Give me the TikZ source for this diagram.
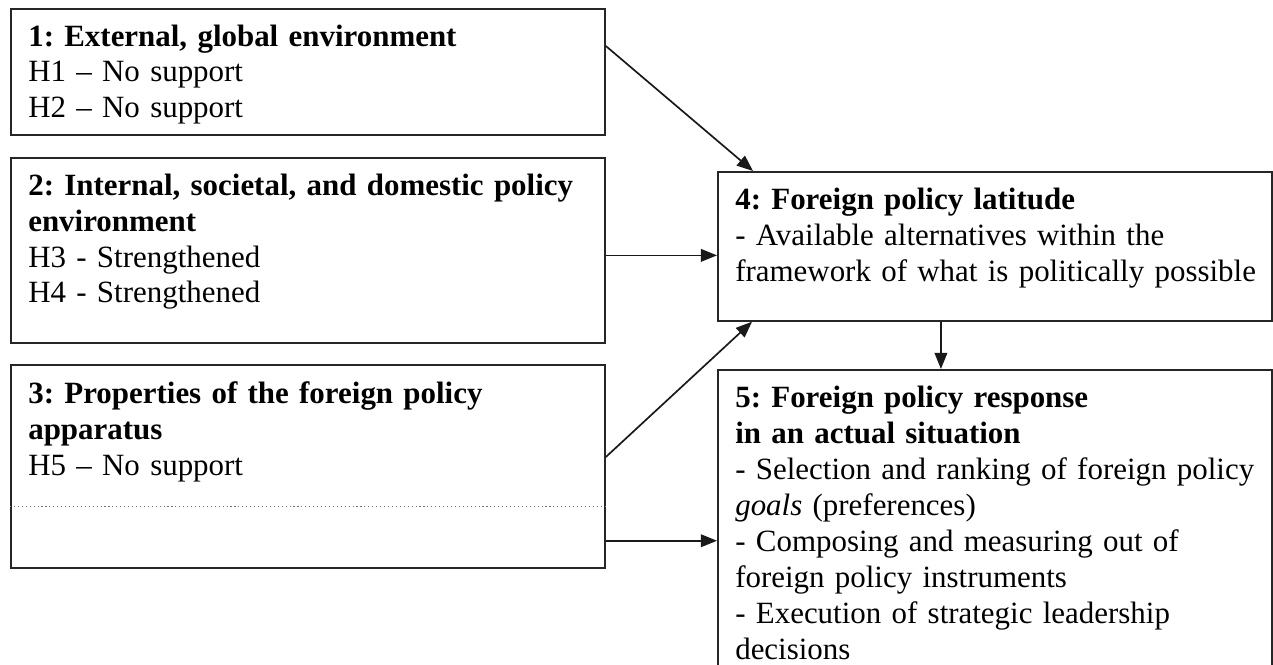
\documentclass[tikz,border=0pt]{standalone}
\usepackage{fontspec}
\setmainfont{Liberation Serif}
\usetikzlibrary{arrows.meta}
\frenchspacing

\tikzset{
  panel/.style={draw=black!85, line width=1.2pt, anchor=north west, inner sep=0pt},
  paneltext/.style={anchor=base west, inner sep=0pt, align=left, text width=14cm,
    font=\fontsize{22}{25.6}\selectfont},
  link/.style={draw=black!90, line width=1.2pt, -{Triangle[length=11.5pt,width=9pt]}},
  divider/.style={draw=black!55, dotted, line width=0.8pt}
}

\begin{document}
\begin{tikzpicture}[x=0.025cm,y=-0.025cm]
\clip (0,0) rectangle (1273,664);
% left column: the three environments
\node[panel, minimum width=14.85cm, minimum height=3.15cm] (b1) at (10,8) {};
\node[panel, minimum width=14.85cm, minimum height=4.625cm] (b2) at (10,157) {};
\node[panel, minimum width=14.85cm, minimum height=5.075cm] (b3) at (10,364) {};
% right column
\node[panel, minimum width=13.85cm, minimum height=3.725cm] (b4) at (717,171) {};
\node[panel, minimum width=13.85cm, minimum height=8.025cm] (b5) at (717,369) {};

\node[paneltext] (t1) at ([shift={(18,38)}]b1.north west)
  {\textbf{1: External, global environment}\\H1 – No support\\H2 – No support};
\node[paneltext] (t2) at ([shift={(18,38)}]b2.north west)
  {\textbf{2: Internal, societal, and domestic policy}\\\textbf{environment}\\H3 - Strengthened\\H4 - Strengthened};
\node[paneltext] (t3) at ([shift={(18,39)}]b3.north west)
  {\textbf{3: Properties of the foreign policy}\\\textbf{apparatus}\\H5 – No support};
\draw[divider] ([shift={(0,-62)}]b3.south west) -- ([shift={(0,-62)}]b3.south east);

\node[paneltext] (t4) at ([shift={(18,38)}]b4.north west)
  {\textbf{4: Foreign policy latitude}\\- Available alternatives within the\\framework of what is politically possible};
\node[paneltext] (t5) at ([shift={(18,38)}]b5.north west)
  {\textbf{5: Foreign policy response}\\\textbf{in an actual situation}\\- Selection and ranking of foreign policy\\\textit{goals} (preferences)\\- Composing and measuring out of\\foreign policy instruments\\- Execution of strategic leadership\\decisions};

% arrows
\coordinate (s2) at ([shift={(0,5)}]b2.east);
\coordinate (s4) at ([shift={(-54,0)}]b4.south);
\coordinate (s5) at ([shift={(0,-28)}]b3.south east);
\draw[link] ([shift={(0,38)}]b1.north east) -- ([shift={(36,0)}]b4.north west);
\draw[link] (s2) -- (s2 -| b4.west);
\draw[link] ([shift={(0,93)}]b3.north east) -- ([shift={(35,0)}]b4.south west);
\draw[link] (s4) -- (s4 |- b5.north);
\draw[link] (s5) -- (s5 -| b5.west);
\end{tikzpicture}
\end{document}
